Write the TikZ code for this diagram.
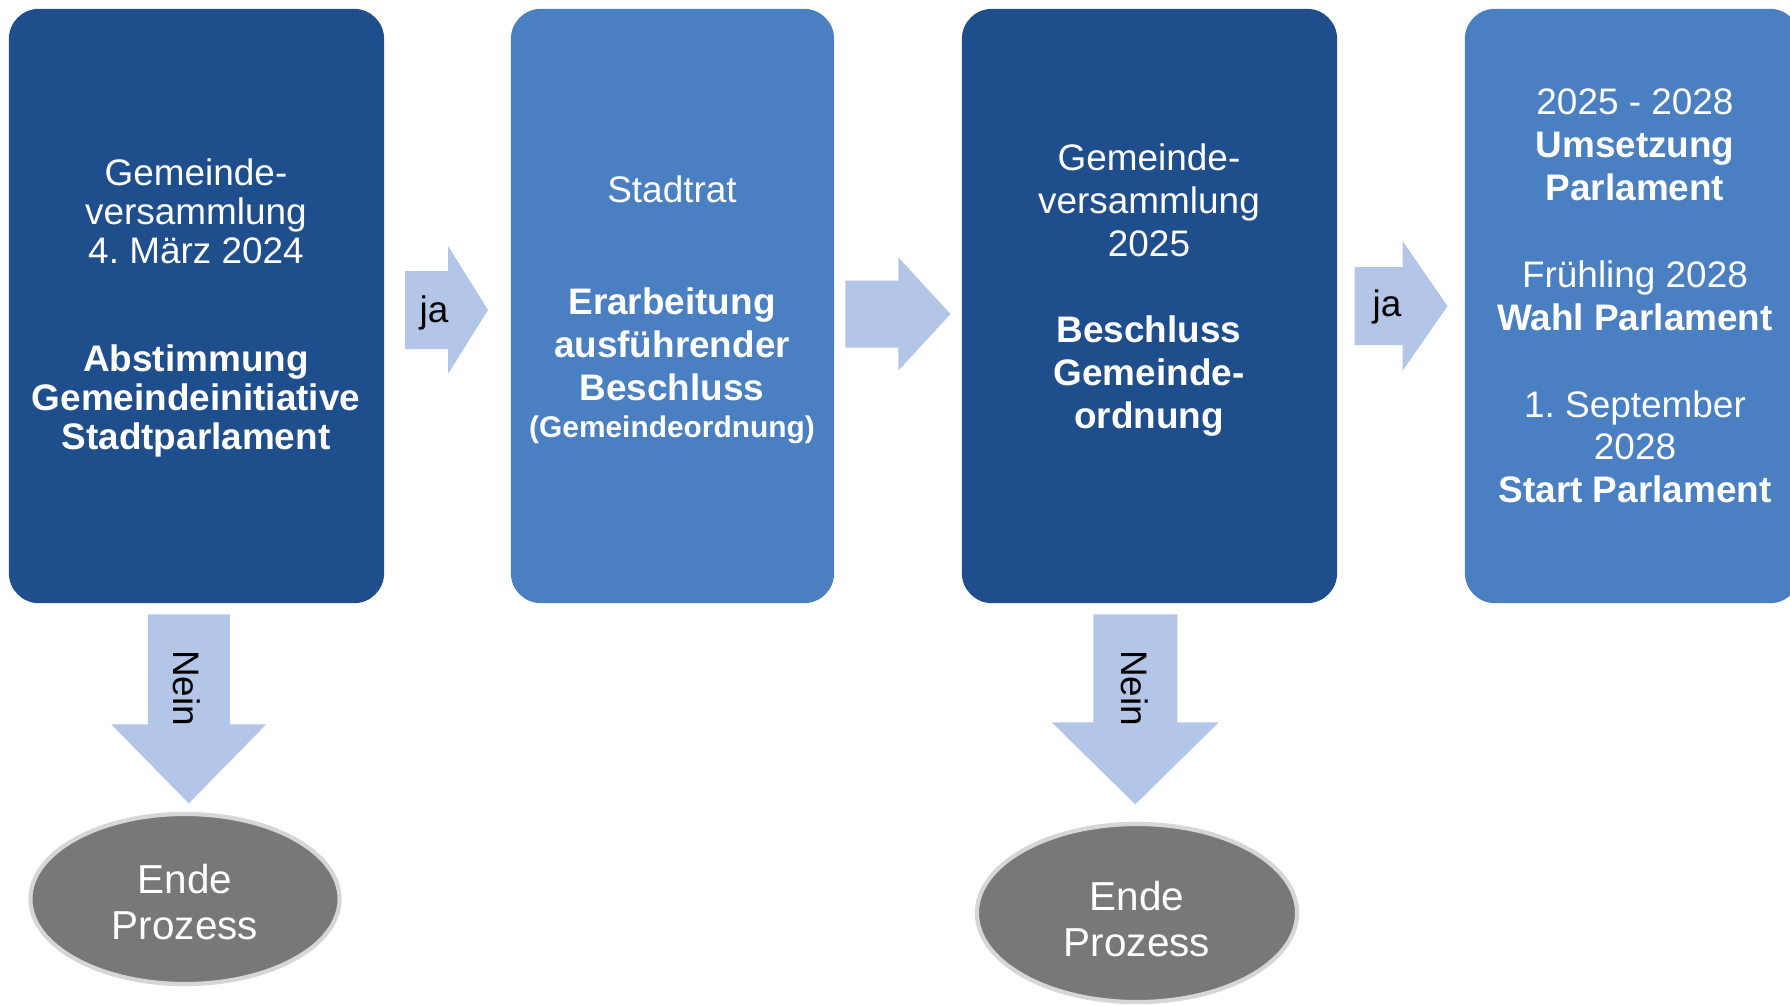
\documentclass[tikz,border=0pt]{standalone}
\usepackage{fontspec}
\setmainfont{Liberation Sans}
\usepackage{tikz}
\usetikzlibrary{calc,shapes.geometric}

\definecolor{dunkelblau}{HTML}{1F4E8C}
\definecolor{hellblau}{HTML}{4A7FC2}
\definecolor{pfeilblau}{HTML}{B4C6E7}
\definecolor{endegrau}{HTML}{787878}
\definecolor{randgrau}{HTML}{D6D6D6}

\tikzset{
	kasten/.style={rectangle, rounded corners=0.3cm, inner sep=0pt, minimum height=5.94cm},
	dunkel/.style={kasten, fill=dunkelblau},
	hell/.style={kasten, fill=hellblau},
	kastentext/.style={text=white, align=center, font=\fontsize{10.5}{12.2}\selectfont},
	ende/.style={ellipse, fill=endegrau, draw=randgrau, line width=1.2pt, inner sep=0pt},
	endetext/.style={text=white, align=center, font=\fontsize{11.5}{13.3}\selectfont},
	pfeil/.style={fill=pfeilblau},
	pfeiltext/.style={text=black, font=\fontsize{10.5}{12}\selectfont}
}

\def\blockpfeil[#1](#2)(#3:#4:#5:#6){\fill[pfeil, shift={(#2)}, #1] ({-#3/2}, {-#4/2}) -- ({#3/2-#6}, {-#4/2}) -- ({#3/2-#6}, {-#5/2}) -- ({#3/2}, 0) -- ({#3/2-#6}, {#5/2}) -- ({#3/2-#6}, {#4/2}) -- ({-#3/2}, {#4/2}) -- cycle;}

\begin{document}
\begin{tikzpicture}[x=0.01cm, y=-0.01cm]
			%%%%% START %%%%%
			
			\useasboundingbox (0, 0) rectangle (1790, 1005);
			
			\node[dunkel, minimum width=3.75cm] (gv1) at (196.5, 306) {};
			\node[hell, minimum width=3.23cm] (sr) at (672.5, 306) {};
			\node[dunkel, minimum width=3.75cm] (gv2) at (1149.5, 306) {};
			\node[hell, minimum width=3.35cm] (parl) at (1632.5, 306) {};
			
			\node[kastentext, font=\fontsize{10.5}{11.1}\selectfont] (gv1-text) at (196, 308) {Gemeinde-\\versammlung\\4.\ März 2024\\[19.5pt]\textbf{Abstimmung}\\\textbf{Gemeindeinitiative}\\\textbf{Stadtparlament}};
			\node[kastentext] (sr-text) at (672, 310) {Stadtrat\\[19.6pt]\textbf{Erarbeitung}\\\textbf{ausführender}\\\textbf{Beschluss}\\[-1.5pt]{\fontsize{8.5}{10}\selectfont\bfseries (Gemeindeordnung)}};
			\node[kastentext] (gv2-text) at (1149, 290) {Gemeinde-\\versammlung\\2025\\[12.5pt]\textbf{Beschluss}\\\textbf{Gemeinde-}\\\textbf{ordnung}};
			\node[kastentext] (parl-text) at (1635, 296) {2025 - 2028\\\textbf{Umsetzung}\\\textbf{Parlament}\\[12.5pt]Frühling 2028\\\textbf{Wahl Parlament}\\[12.5pt]1.\ September\\2028\\\textbf{Start Parlament}};
			
			\node[ende, minimum width=3.09cm, minimum height=1.70cm] (ende1) at (185, 899) {};
			\node[ende, minimum width=3.20cm, minimum height=1.78cm] (ende2) at (1137, 913) {};
			\node[endetext] (ende1-text) at (185, 902) {Ende\\Prozess};
			\node[endetext] (ende2-text) at (1137, 919) {Ende\\Prozess};
			
			\coordinate (ja1-mitte) at ($(gv1.east)!0.5!(sr.west)+(-1, 4)$);
			\coordinate (weiter-mitte) at ($(sr.east)!0.5!(gv2.west)+(0, 8)$);
			\coordinate (ja2-mitte) at ($(gv2.east)!0.5!(parl.west)$);
			\coordinate (nein1-mitte) at ($(gv1.south)!0.5!(ende1.north)+(-2, 1)$);
			\coordinate (nein2-mitte) at ($(gv2.south)!0.5!(ende2.north)+(-8, -3.5)$);
			
			\blockpfeil[](ja1-mitte)(83:78:128:40);
			\blockpfeil[](weiter-mitte)(105:67:113:52);
			\blockpfeil[](ja2-mitte)(93:78:130:45);
			\blockpfeil[rotate=-90](nein1-mitte)(189:82:155:79);
			\blockpfeil[rotate=-90](nein2-mitte)(190:84:167:82);
			
			\node[pfeiltext] (ja1) at (434, 313) {ja};
			\node[pfeiltext] (ja2) at (1387, 307) {ja};
			\node[pfeiltext, rotate=-90] (nein1) at (187, 688) {Nein};
			\node[pfeiltext, rotate=-90] (nein2) at (1135, 688) {Nein};
			
			%%%%% END %%%%%
\end{tikzpicture}
\end{document}
